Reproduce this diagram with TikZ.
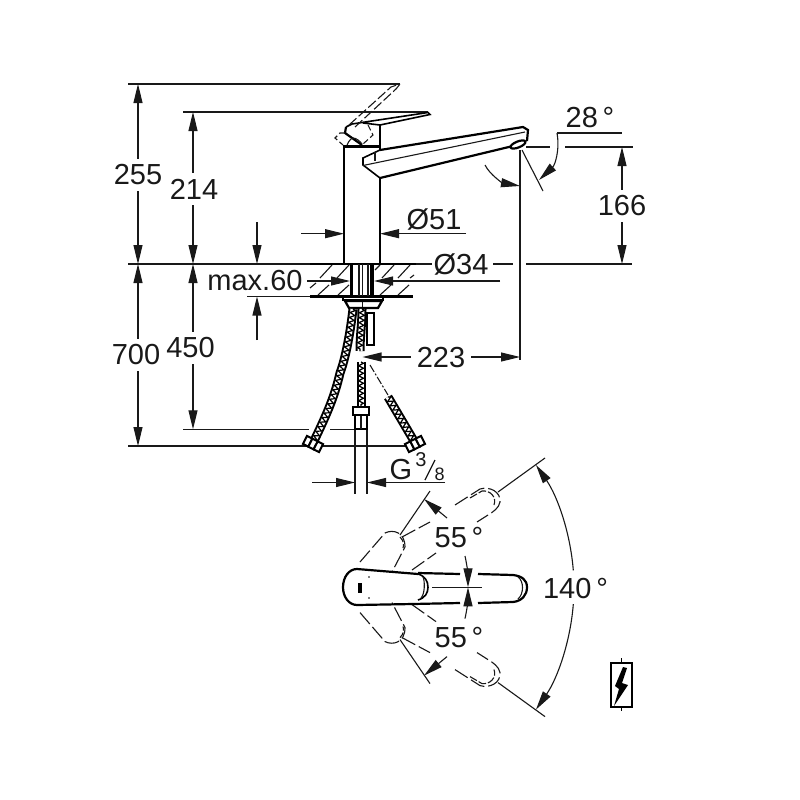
\documentclass[tikz,border=0pt]{standalone}
\usepackage{fontspec}
\setmainfont{Liberation Sans}
\usetikzlibrary{arrows.meta}
\usetikzlibrary{decorations.pathmorphing}

% outlines of the swung lever, drawn once above and once mirrored below
\newcommand{\leverswing}{
    % 55 degree position
    \draw[thin_line] (430,491) -- (400,535);
    \draw[dash_line] (360,562) -- (385,533) .. controls (393,529) and (405,532) .. (405,547) -- (392,572);
    \draw[dash_line, dash pattern=on 6pt off 2pt] (400,537) .. controls (404,541) and (404,545) .. (403,548);
    % 35 degree position
    \draw[thin_line] (545,458) -- (498,492);
    \draw[dash_line] (402,537) -- (430,522);
    \draw[dash_line] (455,505) -- (480,489) .. controls (490,486) and (501,492) .. (500,502) .. controls (499,508) and (493,512) .. (488,515) -- (477,522);
    \draw[dash_line, dash pattern=on 8pt off 2pt] (470,498) -- (482,491) .. controls (490,490) and (497,497) .. (494,505);
    \draw[dash_line] (412,570) -- (436,553);
    % angle arrows
    \draw[dim_arrow] (447,518) -- (424,499);
    \draw[dim_arrow] (465,556) .. controls (467,565) and (468,575) .. (468,587.3);
    \draw[dim_arrow] (573.3,570.4) arc[start angle=4.5, end angle=34.5, radius=216pt];
}

% hose end nut
\newcommand{\hosenut}[3]{
    \begin{scope}[shift={(#1,#2)}, rotate=#3]
        \foreach \s in {-6,0,6} {
            \draw[part_line, line width=2pt, fill=white] (\s-3,-4.5) rectangle (\s+3,4.5);
        }
    \end{scope}
}

\begin{document}
\begin{tikzpicture}[
        x=1pt, y=-1pt,
        thin_line/.style={line width=1.1pt, draw=black!90},
        part_line/.style={line width=1.6pt, draw=black},
        body_line/.style={line width=2.2pt, draw=black},
        dash_line/.style={line width=1.1pt, draw=black!90, dash pattern=on 15pt off 4pt},
        dim_arrow/.style={line width=1.1pt, draw=black!90, -{Triangle[length=19pt, width=9pt]}},
        dim_text/.style={font=\fontsize{29}{30}\selectfont, inner sep=6pt, text=black!90},
        small_text/.style={inner sep=0pt, text=black!90},
        hose/.style={line width=9pt, draw=black,
            postaction={draw=white, line width=5pt},
            postaction={draw=black, line width=1.2pt, decorate,
                decoration={zigzag, amplitude=2.6pt, segment length=5pt}}}
    ]
    \useasboundingbox[fill=white] (0,0) rectangle (800,800);

    % Labels
    \node[dim_text] (dim_255) at (138,175) {255};
    \node[dim_text] (dim_214) at (194,189) {214};
    \node[dim_text] (dim_700) at (136,355) {700};
    \node[dim_text] (dim_450) at (190.5,348) {450};
    \node[dim_text] (dim_max) at (255,281) {max.60};
    \node[dim_text] (dim_d51) at (434,219) {Ø51};
    \node[dim_text] (dim_d34) at (461,264) {Ø34};
    \node[dim_text] (dim_166) at (622,206) {166};
    \node[dim_text] (dim_223) at (441,358) {223};
    \node[dim_text] (dim_28) at (590,118) {28\,°};
    \node[dim_text] (dim_g) at (401,470) {G};
    \node[small_text, font=\fontsize{20}{21}\selectfont] (dim_g3) at (421,460) {3};
    \node[small_text, font=\fontsize{18}{19}\selectfont] (dim_g8) at (439.5,474.5) {8};
    \node[dim_text] (dim_up) at (459,538) {55\,°};
    \node[dim_text] (dim_down) at (459,638) {55\,°};
    \node[dim_text] (dim_140) at (575.5,589) {140\,°};

    % Free ends of the dimension lines
    \coordinate (tip_255) at (138,84);
    \coordinate (tip_214) at (193,112);
    \coordinate (tip_base_a) at (138,264);
    \coordinate (tip_base_b) at (193,264);
    \coordinate (tip_700) at (138,446);
    \coordinate (tip_450) at (193,429.3);
    \coordinate (tip_166_top) at (622,147);
    \coordinate (tip_166_base) at (622,264);
    \coordinate (tip_223_l) at (362.5,357);
    \coordinate (tip_223_r) at (520,357);

    % Horizontal reference lines
    \draw[thin_line] (128,84) -- (400,84);
    \draw[thin_line] (183,112) -- (428,112);
    \draw[thin_line] (128,264) -- (432,264);
    \draw[thin_line] (493,264) -- (513,264);
    \draw[thin_line] (526,264) -- (632,264);
    \draw[thin_line] (247,296.5) -- (413,296.5);
    \draw[thin_line] (183,429.3) -- (309,429.3);
    \draw[thin_line] (330,429.3) -- (355,429.3);
    \draw[thin_line] (128,446) -- (405,446);
    \draw[thin_line] (526,147) -- (550,147);
    \draw[thin_line] (565,147) -- (633,147);
    \draw[thin_line] (557,133) -- (622,133);
    \draw[thin_line] (520,150) -- (520,360);

    % Vertical dimensions
    \draw[dim_arrow] (dim_255.north -| tip_255) -- (tip_255);
    \draw[dim_arrow] (dim_255.south -| tip_255) -- (tip_base_a);
    \draw[dim_arrow] (dim_214.north -| tip_214) -- (tip_214);
    \draw[dim_arrow] (dim_214.south -| tip_214) -- (tip_base_b);
    \draw[dim_arrow] (dim_700.north -| tip_700) -- (tip_base_a);
    \draw[dim_arrow] (dim_700.south -| tip_700) -- (tip_700);
    \draw[dim_arrow] (dim_450.north -| tip_450) -- (tip_base_b);
    \draw[dim_arrow] (dim_450.south -| tip_450) -- (tip_450);
    \draw[dim_arrow] (dim_166) -- (tip_166_top);
    \draw[dim_arrow] (dim_166) -- (tip_166_base);
    \draw[dim_arrow] (257,222) -- (257,264);
    \draw[dim_arrow] (257,340) -- (257,296.5);

    % Horizontal dimensions
    \draw[dim_arrow] (301,233.7) -- (344,233.7);
    \draw[dim_arrow] (466,233.7) -- (380,233.7);
    \draw[dim_arrow] (307,281) -- (350,281);
    \draw[dim_arrow] (500,281) -- (374,281);
    \draw[dim_arrow] (dim_223.west |- tip_223_l) -- (tip_223_l);
    \draw[dim_arrow] (dim_223.east |- tip_223_r) -- (tip_223_r);
    \draw[dim_arrow] (312,482.5) -- (355,482.5);
    \draw[dim_arrow] (445,482.5) -- (367,482.5);

    % Fraction stroke
    \draw[thin_line, line width=1.3pt] (425,480) -- (435,460);

    % Spout angle
    \draw[thin_line] (522,150) -- (543,191);
    \draw[dim_arrow] (557,133) .. controls (560,150) and (555,165) .. (539,180);
    \draw[dim_arrow] (485,165) .. controls (490,175) and (503,183) .. (520,186);

    % Table hatching
    \foreach \x in {320,337,382,398} {
        \draw[thin_line] (\x,278) -- (\x+12,265);
    }
    \foreach \x in {318,338,380,398} {
        \draw[thin_line] (\x,295) -- (\x+11,285);
    }
    \draw[thin_line] (310,288) -- (316,283);
    \draw[thin_line] (375,270) -- (380,265);
    \draw[thin_line] (410,278) -- (414,275);
    \draw[body_line] (310,264) -- (416,264);
    \draw[body_line] (310,296.5) -- (413,296.5);

    % Shaft under the body
    \foreach \x in {351.5,372} {
        \draw[body_line, line width=3.5pt] (\x,264) -- (\x,296);
    }
    \draw[thin_line] (359,264) -- (359,296);
    \draw[thin_line] (362.5,264) -- (362.5,320);
    \draw[thin_line] (368,264) -- (368,296);
    \draw[part_line, fill=white] (343,297) rectangle (383,300);
    \draw[body_line] (345,301) -- (382,301) -- (378,308) -- (349,308) -- cycle;

    % Hoses
    \draw[part_line, fill=white] (367,313) rectangle (374,345);
    \draw[hose] (353,309) .. controls (350,335) and (345,360) .. (340,373) .. controls (335,395) and (328,412) .. (313,443);
    \draw[hose] (362,309) .. controls (362,325) and (360,335) .. (360,351);
    \draw[hose] (361,362) -- (361,406);
    \draw[hose] (388,397) -- (414,441);
    \draw[thin_line, dash pattern=on 8pt off 2pt on 2pt off 2pt] (370,365) -- (388,395);
    \hosenut{313}{444}{-27}
    \hosenut{415}{444}{27}

    % Lower fitting
    \draw[thin_line] (355,429) -- (355,494);
    \draw[thin_line] (367,429) -- (367,494);
    \draw[part_line, fill=white] (355,415) rectangle (367,429);
    \draw[thin_line] (361,415) -- (361,429);
    \draw[part_line, fill=white] (353,407) rectangle (369,415);

    % Faucet body
    \draw[body_line] (344,264) -- (344,146.5) -- (380,146.5);
    \draw[body_line] (380,178) -- (380,264);
    \draw[body_line] (380,125) -- (380,150);

    % Spout
    \draw[body_line] (380,150) -- (523,127) -- (528,130) -- (527,141);
    \draw[body_line] (380,178) -- (513,146);
    \draw[part_line] (380,150) -- (363,158) -- (363,165) -- (380,178);
    \draw[thin_line] (363,165.5) -- (525,132);
    \draw[thin_line] (375,152) -- (375,161);
    \draw[body_line, fill=white, rotate around={22:(518,144.5)}] (518,144.5) ellipse [x radius=8, y radius=3];

    % Lever
    \draw[part_line] (346,127) -- (352,124) -- (428,112.5) -- (430,114.5) -- (380,125) -- (363,123);
    \draw[body_line] (346,127) -- (345,133) -- (362,145);
    \draw[thin_line] (347,145) .. controls (349,140) and (352,138) .. (353,138) .. controls (356,138) and (360,141) .. (362,144);

    % Lever raised
    \draw[dash_line, dash pattern=on 10pt off 3pt] (349,125) -- (391,87) -- (400,84);
    \draw[dash_line, dash pattern=on 10pt off 3pt] (355,127) -- (396,89) -- (400,84);
    \draw[dash_line, dash pattern=on 6pt off 3pt] (345,133) -- (340,133) -- (335,138) -- (343,145);
    \draw[dash_line, dash pattern=on 6pt off 3pt] (368,125) -- (373,135) -- (363,144);

    % Top view, swung positions
    \leverswing
    \begin{scope}[shift={(0,1174.6)}, yscale=-1]
        \leverswing
    \end{scope}

    % Top view, centre position
    \draw[body_line] (418,574) -- (357,569) .. controls (349,569) and (343,577) .. (343,587.3)
        .. controls (343,597) and (349,605) .. (357,605) -- (413,604);
    \draw[part_line] (418,574) .. controls (425,576) and (428,581) .. (428,587.3) .. controls (428,593) and (425,598) .. (418,600);
    \draw[thin_line] (423,577) .. controls (425,581) and (425,594) .. (421,598);
    \draw[body_line] (418,573) -- (460,574);
    \draw[body_line] (413,604) -- (460,603);
    \draw[body_line] (478,574) -- (513,575) .. controls (522,576) and (527,580) .. (527,587.3)
        .. controls (527,595) and (522,601) .. (513,602) -- (478,603);
    \draw[thin_line] (518,577) .. controls (524,581) and (524,594) .. (518,599);
    \draw[thin_line] (432,587.3) -- (482,587.3);
    \fill (358,583) rectangle (362,593);
    \fill (369,577) circle (0.9);
    \fill (369,598) circle (0.9);

    % Electrical symbol
    \draw[part_line] (611,663) rectangle (632,707);
    \draw[part_line] (621.5,658) -- (621.5,663);
    \draw[part_line] (621.5,707) -- (621.5,711);
    \fill (623,667) -- (627,668) -- (622,683) -- (628,685) -- (614,706) -- (619,689) -- (615,686) -- cycle;
\end{tikzpicture}
\end{document}
